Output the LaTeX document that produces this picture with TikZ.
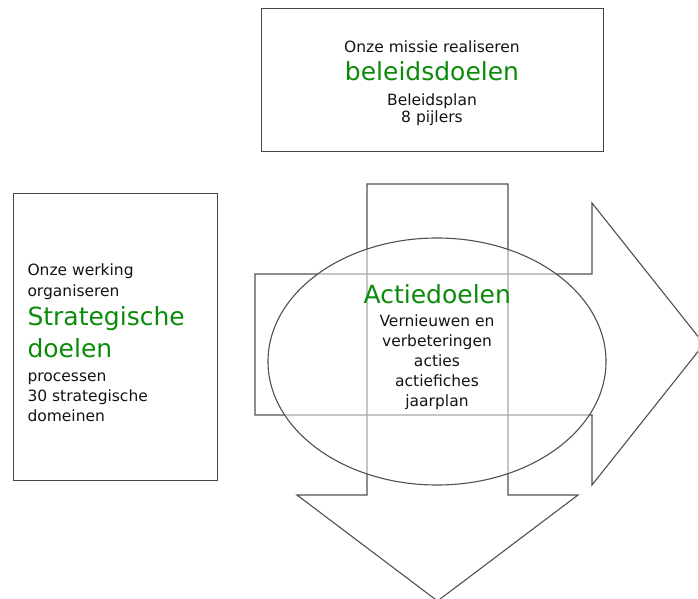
\documentclass[tikz,border=0pt]{standalone}
\usepackage{fontspec}
\setmainfont{DejaVu Sans}
\usetikzlibrary{shapes.geometric}
\definecolor{lineg}{RGB}{80,80,80}
\definecolor{boxg}{RGB}{70,70,70}
\definecolor{titleg}{RGB}{10,140,10}
\definecolor{txt}{RGB}{20,20,20}
\tikzset{
  x=1pt,y=-1pt,
  boxframe/.style={draw=boxg,line width=1pt},
  arrowshape/.style={draw=lineg,line width=1.1pt},
  small/.style={inner sep=0pt,text=txt,font=\fontsize{15.5}{20}\selectfont},
  big/.style={inner sep=0pt,text=titleg,font=\fontsize{25}{30}\selectfont},
}
\begin{document}
\begin{tikzpicture}
\useasboundingbox (0,0) rectangle (698,599);
\begin{scope}
\clip (0,0) rectangle (698,599);
% top box
\node[boxframe,minimum width=342pt,minimum height=142pt,inner sep=0pt] (top) at (432,80) {};
% left box
\node[boxframe,minimum width=204pt,minimum height=287pt,inner sep=0pt] (left) at (115,336.5) {};
% down arrow
\draw[arrowshape] (367,184) -- (508,184) -- (508,495) -- (578,495) -- (437.5,601) -- (297,495) -- (367,495) -- cycle;
% right arrow
\draw[arrowshape] (255,274) -- (592,274) -- (592,203) -- (704,344) -- (592,485) -- (592,415) -- (255,415) -- cycle;
% ellipse
\node[ellipse,draw=lineg,line width=1.1pt,fill=white,fill opacity=0.5,minimum width=338pt,minimum height=247pt,inner sep=0pt] (ell) at (437,361.5) {};
\end{scope}
% top box text
\node[small,anchor=base] (t1) at (432,53) {Onze missie realiseren};
\node[big,anchor=base] (t2) at (432,81) {beleidsdoelen};
\node[small,anchor=base] (t3) at (432,106) {Beleidsplan};
\node[small,anchor=base] (t4) at (432,122.3) {8 pijlers};
% left box text
\node[small,anchor=base west] (l1) at (27.3,275.7) {Onze werking};
\node[small,anchor=base west] (l2) at (27.3,296.7) {organiseren};
\node[big,anchor=base west] (l3) at (27.3,325.7) {Strategische};
\node[big,anchor=base west] (l4) at (27.3,357.3) {doelen};
\node[small,anchor=base west] (l5) at (27.3,381.7) {processen};
\node[small,anchor=base west] (l6) at (27.3,401.7) {30 strategische};
\node[small,anchor=base west] (l7) at (27.3,421.7) {domeinen};
% ellipse text
\node[big,anchor=base] (e1) at (437.3,303.3) {Actiedoelen};
\node[small,anchor=base] (e2) at (437,326.7) {Vernieuwen en};
\node[small,anchor=base] (e3) at (437,346.7) {verbeteringen};
\node[small,anchor=base] (e4) at (437,366.7) {acties};
\node[small,anchor=base] (e5) at (437,386.7) {actiefiches};
\node[small,anchor=base] (e6) at (437,406.7) {jaarplan};
\end{tikzpicture}
\end{document}
